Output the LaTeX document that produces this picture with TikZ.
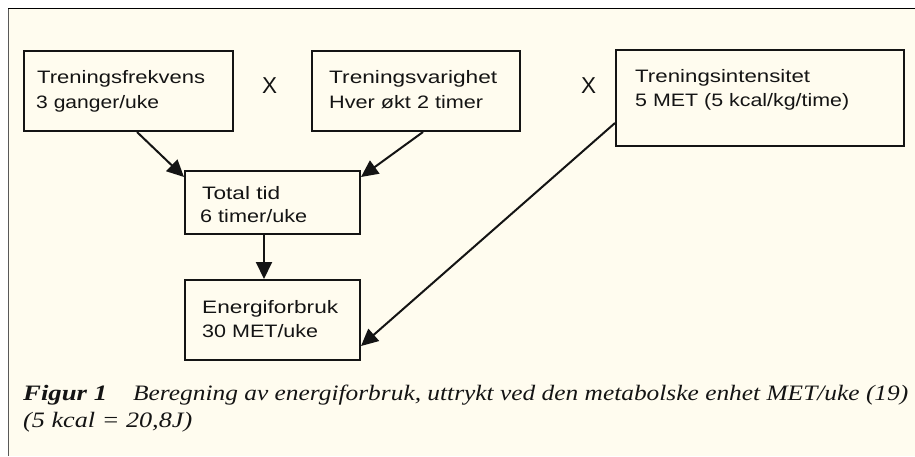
\documentclass[tikz,border=0pt]{standalone}
\usepackage{graphicx}
\usepackage{fontspec}
\setmainfont{Liberation Sans}
\newfontfamily\capfont{Liberation Serif}
\usetikzlibrary{arrows.meta,calc}
\definecolor{cream}{RGB}{255,252,239}
\definecolor{ink}{RGB}{20,20,20}
\newcommand{\rw}[2]{\resizebox{#1pt}{\height}{#2}}
\tikzset{
  box/.style={draw=ink, line width=2pt, rectangle, inner sep=0pt, anchor=north west},
  txt/.style={anchor=base west, inner sep=0pt, text=ink, font=\fontsize{18}{20}\selectfont},
  times/.style={anchor=base west, inner sep=0pt, text=ink, font=\fontsize{23}{25}\selectfont},
  captxt/.style={anchor=base west, inner sep=0pt, text=ink, font=\capfont\fontsize{22}{24}\selectfont\itshape},
  arr/.style={draw=ink, line width=2pt, -{Triangle[length=17pt,width=16pt]}},
}
\begin{document}
\begin{tikzpicture}[x=1pt,y=-1pt]
\useasboundingbox (0,0) rectangle (915,456);
\fill[white] (0,0) rectangle (915,456);
\fill[cream] (8,8) rectangle (915,456);
\draw[line width=1.2pt, color=black!65] (8.5,8) -- (8.5,456);
\draw[line width=1.2pt, color=black] (8,8.5) -- (915,8.5);

% boxes
\node[box, minimum width=209pt, minimum height=80pt] (b1) at (23,50) {};
\node[box, minimum width=208pt, minimum height=80pt] (b2) at (311,50) {};
\node[box, minimum width=288pt, minimum height=96pt] (b3) at (615,49) {};
\node[box, minimum width=175pt, minimum height=63pt] (tot) at (184,170) {};
\node[box, minimum width=175pt, minimum height=80pt] (en) at (184,279) {};

% texts
\node[txt] (t1a) at (37,83) {\rw{168}{Treningsfrekvens}};
\node[txt] (t1b) at (36,108) {\rw{123}{3 ganger/uke}};
\node[txt] (t2a) at (329,83) {\rw{168}{Treningsvarighet}};
\node[txt] (t2b) at (329,108) {\rw{154}{Hver økt 2 timer}};
\node[txt] (t3a) at (635,82) {\rw{175}{Treningsintensitet}};
\node[txt] (t3b) at (635,106) {\rw{214}{5 MET (5 kcal/kg/time)}};
\node[txt] (t4a) at (202,199) {\rw{78}{Total tid}};
\node[txt] (t4b) at (200,222) {\rw{107}{6 timer/uke}};
\node[txt] (t5a) at (202,313) {\rw{136}{Energiforbruk}};
\node[txt] (t5b) at (202,337) {\rw{116}{30 MET/uke}};
\node[times] (x1) at (262,93) {\rw{15}{X}};
\node[times] (x2) at (581,93) {\rw{15}{X}};

% connectors
\draw[arr] ($(b1.south west)+(114,0)$) -- ($(tot.north west)+(0,7)$);
\draw[arr] ($(b2.south west)+(112,0)$) -- ($(tot.north east)+(0,7)$);
\draw[arr] ($(tot.south west)+(80,0)$) -- ($(en.north west)+(80,0)$);
\draw[arr] ($(b3.north west)+(0,74)$) -- ($(en.north east)+(0,67)$);

% caption
\node[captxt] (c1) at (23,400) {\rw{84}{\bfseries Figur 1}};
\node[captxt] (c2) at (133,400) {\rw{775}{Beregning av energiforbruk, uttrykt ved den metabolske enhet MET/uke (19)}};
\node[captxt] (c3) at (23,427) {\rw{169}{(5 kcal = 20,8J)}};
\end{tikzpicture}
\end{document}
